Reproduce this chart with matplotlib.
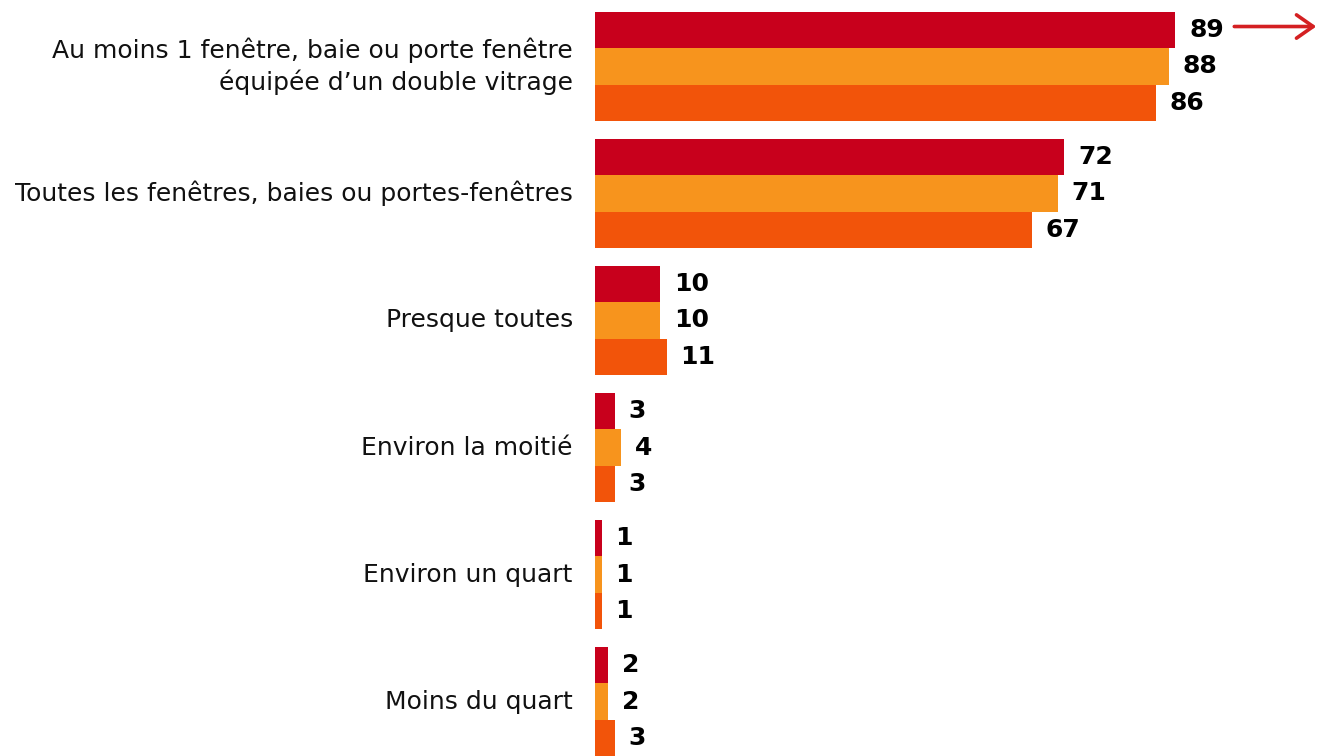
import matplotlib
matplotlib.use("Agg")
import matplotlib.pyplot as plt
from matplotlib.patches import FancyArrowPatch
import numpy as np

categories = [
    "Au moins 1 fenêtre, baie ou porte fenêtre\néquipée d\u2019un double vitrage",
    "Toutes les fenêtres, baies ou portes-fenêtres",
    "Presque toutes",
    "Environ la moitié",
    "Environ un quart",
    "Moins du quart",
]
series_a = [89, 72, 10, 3, 1, 2]
series_b = [88, 71, 10, 4, 1, 2]
series_c = [86, 67, 11, 3, 1, 3]
colors = ["#C8001C", "#F7941D", "#F2540A"]

W, H = 1317, 756
fig = plt.figure(figsize=(W / 100, H / 100), dpi=100)
x0, x1 = 595, 1312
y_top, y_bot = 12, 756
px_per_unit = 6.52
ax = fig.add_axes([x0 / W, 1 - y_bot / H, (x1 - x0) / W, (y_bot - y_top) / H])

pitch = 3.5
n = len(categories)
for j, (vals, col) in enumerate(zip([series_a, series_b, series_c], colors)):
    ypos = np.arange(n) * pitch + j
    ax.barh(ypos, vals, height=1.0, color=col, edgecolor="none")
    for y, v in zip(ypos, vals):
        ax.annotate(str(v), (v, y), xytext=(10, 0), textcoords="offset points",
                    ha="left", va="center", fontsize=18, fontweight="bold",
                    color="black", family="DejaVu Sans")

for i, cat in enumerate(categories):
    ax.annotate(cat, (0, i * pitch + 1), xytext=(-16, 0), textcoords="offset points",
                ha="right", va="center", fontsize=18, color="#111111",
                family="DejaVu Sans", linespacing=1.32, annotation_clip=False)

ax.set_xlim(0, (x1 - x0) / px_per_unit)
ax.set_ylim((n - 1) * pitch + 2.5, -0.5)
ax.axis("off")

# trend arrow to the right of the first value label
arrow_y = -0.1
arrow = FancyArrowPatch((series_a[0] + 59 / px_per_unit, arrow_y),
                        (series_a[0] + 141 / px_per_unit, arrow_y),
                        transform=ax.transData,
                        arrowstyle="->,head_length=0.6,head_width=0.42",
                        mutation_scale=20, color="#D42022", lw=2.6,
                        shrinkA=0, shrinkB=0, clip_on=False)
ax.add_patch(arrow)

fig.savefig("out.png", dpi=100)
